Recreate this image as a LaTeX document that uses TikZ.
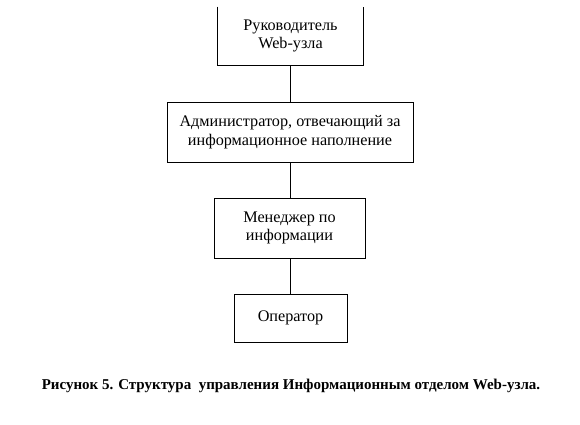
\documentclass[tikz,border=0pt]{standalone}
\usepackage{fontspec}
\setmainfont{Liberation Serif}
\begin{document}
\begin{tikzpicture}[x=1pt,y=-1pt,
  box/.style={draw=black,line width=0.9pt,align=center,inner sep=0pt,font=\fontsize{16.2}{18.5}\selectfont},
  link/.style={draw=black,line width=0.9pt}]
\useasboundingbox[fill=white] (0,0) rectangle (580,424);
\node[box,draw=none,minimum width=145pt,minimum height=58pt] (n1) at (290.5,36) {Руководитель\\Web-узла};
\draw[line width=0.9pt] (n1.north west) -- (n1.south west) -- (n1.south east) -- (n1.north east);
\node[box,minimum width=246pt,minimum height=60pt] (n2) at (290,132) {Администратор, отвечающий за\\информационное наполнение};
\node[box,minimum width=151pt,minimum height=60pt] (n3) at (289.5,228) {Менеджер по\\информации};
\node[box,minimum width=113pt,minimum height=48pt] (n4) at (290.5,318) {Оператор};
\draw[link] (n1.south) -- (n1.south |- n2.north);
\draw[link] (n2.south) -- (n2.south |- n3.north);
\draw[link] (n3.south -| n4.north) -- (n4.north);
\node[font=\bfseries\fontsize{15}{17}\selectfont,inner sep=0pt] (cap) at (291,386) {Рисунок 5. Структура\ \ управления Информационным отделом Web-узла.};
\end{tikzpicture}
\end{document}
